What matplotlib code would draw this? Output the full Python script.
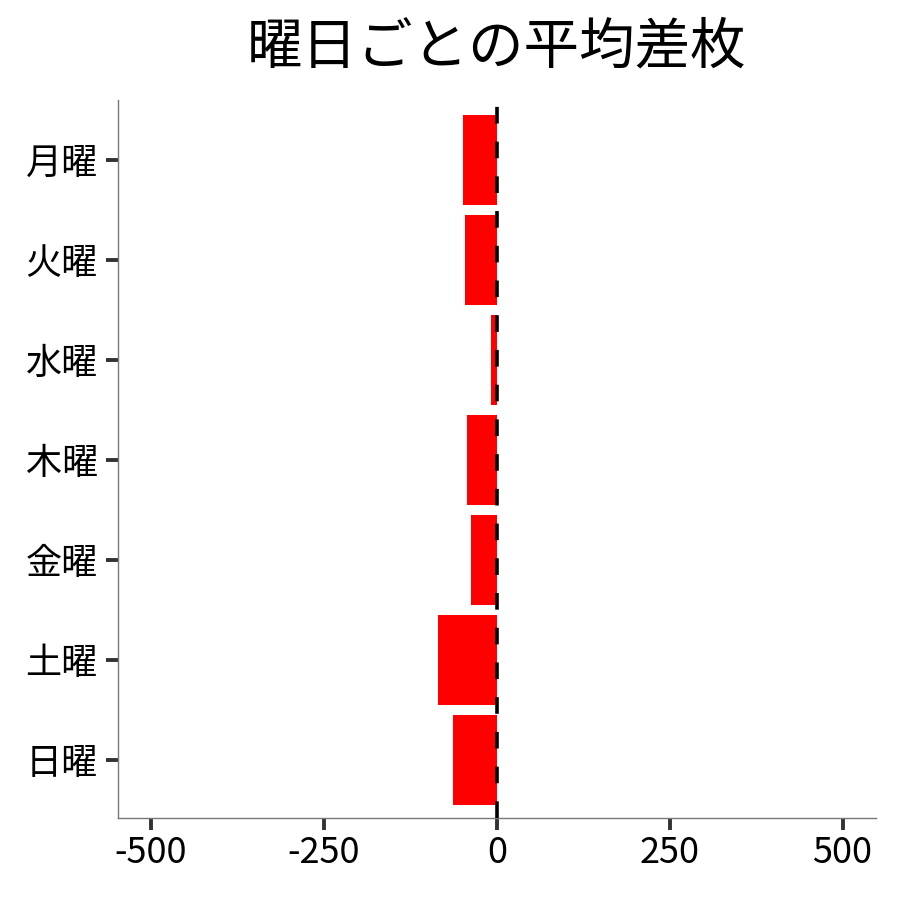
import numpy as np
import matplotlib
matplotlib.use("Agg")
import matplotlib.pyplot as plt

plt.rcParams['font.family'] = ['Noto Sans CJK JP', 'DejaVu Sans']
plt.rcParams['lines.scale_dashes'] = False

days = ['月曜', '火曜', '水曜', '木曜', '金曜', '土曜', '日曜']
avg_diff = [-49, -46, -9, -43, -38, -85, -64]
xticks = [-500, -250, 0, 250, 500]

fig = plt.figure(figsize=(9, 9), dpi=100)
ax = fig.add_axes([0.131, 0.091, 0.842, 0.798])

y = np.arange(len(days))
ax.barh(y, avg_diff, height=0.9, color='#ff0000', zorder=2)
ax.axvline(0, color='black', linewidth=2.6, linestyle=(0, (12, 13)), zorder=3)

ax.set_yticks(y)
ax.set_yticklabels(days, fontsize=26)
ax.set_ylim(len(days) - 0.42, -0.6)
ax.set_xlim(-548, 548)
ax.set_xticks(xticks)
ax.set_xticklabels([str(v) for v in xticks], fontsize=26)

for side in ['top', 'right']:
    ax.spines[side].set_visible(False)
for side in ['left', 'bottom']:
    ax.spines[side].set_color('#777777')
    ax.spines[side].set_linewidth(1.0)
ax.tick_params(axis='both', length=8.5, width=2.8, color='#333333')
ax.tick_params(axis='y', pad=6)
ax.tick_params(axis='x', pad=4)

ax.set_title('曜日ごとの平均差枚', fontsize=40, pad=26)

fig.savefig('out.png', dpi=100)
